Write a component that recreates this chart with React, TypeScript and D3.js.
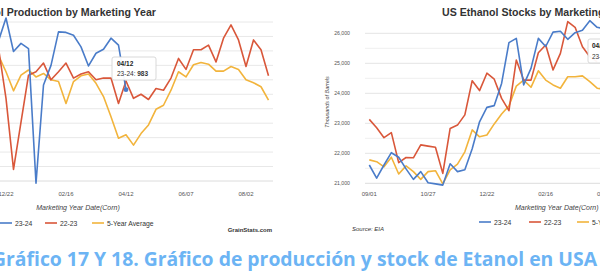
import React from "react";
import * as d3 from "d3";

// x-axis tick labels (every 8 weeks from the 09/01 start of the marketing year)
const tickDates = ["09/01", "10/27", "12/22", "02/16", "04/12", "06/07", "08/02"];
const tickWeeks = [0, 8, 16, 24, 32, 40, 48];

// Left chart: US Ethanol Production (thousand barrels/day), weekly, starting at week 15
const prodStartWeek = 15;
const prod2324 = [1067, 1107, 1049, 1063, 1054, 821, 991, 1025, 1083, 1082, 1077, 1057, 1024, 1046, 1053, 1072, 1060, 983];
const prod2223 = [1055, 968, 845, 927, 1008, 1014, 1029, 1000, 1014, 1029, 1003, 1010, 1014, 1000, 1003, 1003, 959, 998, 968, 975, 966, 985, 982, 1003, 1037, 1018, 1052, 1052, 1060, 1031, 1072, 1095, 1069, 1023, 1069, 1052, 1007];
const prod5yr = [1042, 1014, 981, 1008, 1017, 1005, 1011, 1000, 997, 959, 997, 1007, 1010, 994, 971, 936, 899, 905, 887, 907, 922, 949, 956, 982, 1014, 1005, 1026, 1030, 1027, 1015, 1015, 1023, 1018, 1000, 995, 988, 965];

// Right chart: US Ethanol Stocks (thousands of barrels), weekly from 09/01
const stockStartWeek = 0;
const stock2324 = [21610, 21170, 21610, 22020, 21870, 21480, 21130, 21390, 21020, 20980, 20940, 21650, 21390, 21450, 22150, 23050, 23530, 23590, 24330, 25690, 25830, 24280, 24830, 25830, 25560, 26040, 26070, 25800, 26020, 26100, 26420, 26200, 26150];
const stock2223 = [23130, 22850, 22520, 22690, 21690, 21860, 21850, 22280, 22240, 22200, 21330, 22830, 22940, 23280, 24420, 24090, 24670, 24470, 23830, 23420, 25110, 24440, 24440, 25350, 25610, 24780, 25330, 26390, 26200, 25550, 25220, 25050];
const stock5yr = [21780, 21720, 21550, 21870, 21310, 21580, 21390, 21130, 21390, 21420, 20980, 21450, 21640, 22050, 22780, 22550, 22610, 22980, 23310, 23580, 24240, 24440, 24200, 24750, 24440, 24280, 24170, 24550, 24550, 24580, 24390, 24170, 24130];

const prodGrid = d3.range(825, 1101, 25);
const stockGrid = d3.range(21000, 26001, 500);
const stockLabels = [21000, 22000, 23000, 24000, 25000, 26000];

const seriesNames = ["23-24", "22-23", "5-Year Average"];
const BLUE = "#4a7cc9";
const RED = "#d9573a";
const YELLOW = "#f2b43c";
const colors = [BLUE, RED, YELLOW];

const FONT = "'Liberation Sans', Arial, sans-serif";

export default function App() {
  // left chart scales
  const xL = d3.scaleLinear().domain([16, 48]).range([6, 246]);
  const yL = d3.scaleLinear().domain([825, 1100]).range([181, 22]);
  // right chart scales
  const xR = d3.scaleLinear().domain([0, 32]).range([369.3, 604.5]);
  const yR = d3.scaleLinear().domain([21000, 26000]).range([183.3, 33.3]);

  const lineL = (arr: number[], start: number) =>
    d3.line<number>().x((_, i) => xL(start + i)).y((d) => yL(d))(arr) || "";
  const lineR = (arr: number[], start: number) =>
    d3.line<number>().x((_, i) => xR(start + i)).y((d) => yR(d))(arr) || "";

  const fmt = d3.format(",");

  const tipWeekL = 32;
  const tipIdxL = tipWeekL - prodStartWeek;

  return (
    <svg
      width={600}
      height={278}
      style={{ position: "fixed", left: 0, top: 0, background: "#fff" }}
      fontFamily={FONT}
    >
      <rect x={0} y={0} width={600} height={278} fill="#fff" />

      {/* ---------------- LEFT CHART ---------------- */}
      <text x={156} y={16} textAnchor="end" fontSize={10.6} fontWeight="bold" fill="#333">
        US Ethanol Production by Marketing Year
      </text>
      {prodGrid.map((v) => (
        <line key={v} x1={-10} x2={273} y1={yL(v)} y2={yL(v)} stroke={v === 825 ? "#dcdcdc" : "#e8e8e8"} strokeWidth={1} />
      ))}
      {tickWeeks.map((w, i) => (
        <text key={w} x={xL(w)} y={195.5} textAnchor="middle" fontSize={6} fill="#555">
          {tickDates[i]}
        </text>
      ))}
      <text x={78} y={210} textAnchor="middle" fontSize={7} fontStyle="italic" fill="#444">
        Marketing Year Date(Corn)
      </text>
      <path d={lineL(prod5yr, prodStartWeek)} fill="none" stroke={YELLOW} strokeWidth={1.6} strokeLinejoin="round" />
      <path d={lineL(prod2223, prodStartWeek)} fill="none" stroke={RED} strokeWidth={1.6} strokeLinejoin="round" />
      <path d={lineL(prod2324, prodStartWeek)} fill="none" stroke={BLUE} strokeWidth={1.6} strokeLinejoin="round" />
      <circle cx={xL(tipWeekL)} cy={yL(prod2324[tipIdxL])} r={2.4} fill={BLUE} />
      {/* tooltip */}
      <rect x={112} y={57} width={44} height={23} rx={2} fill="#fff" fillOpacity={0.95} stroke="#cfcfcf" strokeWidth={0.8} />
      <text x={117} y={66} fontSize={6.5} fontWeight="bold" fill="#222">
        {tickDates[4]}
      </text>
      <text x={117} y={76} fontSize={6.5} fill="#333">
        {seriesNames[0]}: <tspan fontWeight="bold">{prod2324[tipIdxL]}</tspan>
      </text>
      {/* legend */}
      {seriesNames.map((s, i) => {
        const lx = [0, 45, 92][i];
        return (
          <g key={s}>
            <line x1={lx} x2={lx + 12} y1={223} y2={223} stroke={colors[i]} strokeWidth={1.6} />
            <text x={lx + 15} y={225.5} fontSize={6.8} fill="#333">
              {s}
            </text>
          </g>
        );
      })}
      <text x={272} y={232} textAnchor="end" fontSize={6} fontWeight="bold" fill="#333">
        GrainStats.com
      </text>

      {/* ---------------- RIGHT CHART ---------------- */}
      <text x={442} y={16} fontSize={10.6} fontWeight="bold" fill="#333">
        US Ethanol Stocks by Marketing Year
      </text>
      {stockGrid.map((v) => (
        <line key={v} x1={365} x2={610} y1={yR(v)} y2={yR(v)} stroke={v === 21000 ? "#dcdcdc" : v % 1000 === 0 ? "#e4e4e4" : "#efefef"} strokeWidth={1} />
      ))}
      {stockLabels.map((v) => (
        <text key={v} x={350} y={yR(v) + 2} textAnchor="end" fontSize={5.2} fill="#555">
          {fmt(v)}
        </text>
      ))}
      <text transform={`translate(329,102) rotate(-90)`} textAnchor="middle" fontSize={5.4} fontStyle="italic" fill="#444">
        Thousands of Barrels
      </text>
      {tickWeeks.map((w, i) => (
        <text key={w} x={xR(w)} y={195.5} textAnchor="middle" fontSize={6} fill="#555">
          {tickDates[i]}
        </text>
      ))}
      <text x={515} y={210} fontSize={7} fontStyle="italic" fill="#444">
        Marketing Year Date(Corn)
      </text>
      <path d={lineR(stock5yr, stockStartWeek)} fill="none" stroke={YELLOW} strokeWidth={1.6} strokeLinejoin="round" />
      <path d={lineR(stock2223, stockStartWeek)} fill="none" stroke={RED} strokeWidth={1.6} strokeLinejoin="round" />
      <path d={lineR(stock2324, stockStartWeek)} fill="none" stroke={BLUE} strokeWidth={1.6} strokeLinejoin="round" />
      {/* tooltip */}
      <rect x={588} y={39} width={50} height={24} rx={2} fill="#fff" fillOpacity={0.95} stroke="#cfcfcf" strokeWidth={0.8} />
      <text x={592} y={48} fontSize={6.5} fontWeight="bold" fill="#222">
        {tickDates[4]}
      </text>
      <text x={592} y={59} fontSize={6.5} fill="#333">
        {seriesNames[0]}: <tspan fontWeight="bold">{fmt(stock2324[32])}</tspan>
      </text>
      {/* legend */}
      {seriesNames.map((s, i) => {
        const lx = [479, 529, 577][i];
        return (
          <g key={s}>
            <line x1={lx} x2={lx + 12} y1={222} y2={222} stroke={colors[i]} strokeWidth={1.6} />
            <text x={lx + 15} y={224.5} fontSize={6.8} fill="#333">
              {s}
            </text>
          </g>
        );
      })}
      <text x={352} y={231} fontSize={6} fontStyle="italic" fill="#333">
        Source: EIA
      </text>

      {/* ---------------- CAPTION ---------------- */}
      <text
        x={-8}
        y={266}
        fontSize={19}
        fontWeight="bold"
        fill="#6cb4f4"
        fontFamily="'Open Sans', sans-serif"
        textLength={605}
        lengthAdjust="spacingAndGlyphs"
      >
        Gráfico 17 Y 18. Gráfico de producción y stock de Etanol en USA
      </text>
    </svg>
  );
}
